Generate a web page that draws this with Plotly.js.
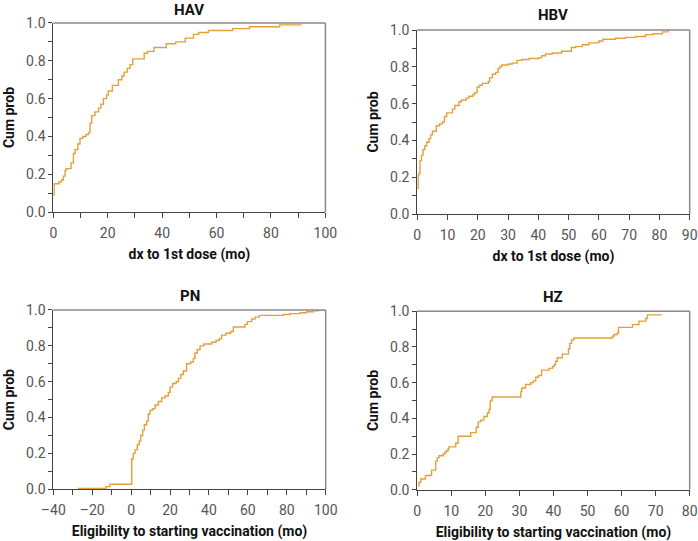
<!DOCTYPE html>
<html>
<head>
<meta charset="utf-8">
<script src="https://cdn.plot.ly/plotly-3.0.1.min.js"></script>
<style>
  html, body { margin: 0; padding: 0; background: #fff; }
  #chart { width: 698px; height: 541px; }
</style>
</head>
<body>
<div id="chart"></div>
<script>
// cumulative probability step curves
var havX = [0, 0.3, 2.1, 3, 3.7, 4.3, 4.7, 6.5, 7.4, 8, 9, 9.8, 10.8, 12, 12.9, 13.5, 14.1, 15.3, 16.6, 17.5, 18.4, 19.6, 20.2, 21.7, 23.9, 25.2, 26, 27.2, 28.2, 29.2, 33.4, 34.6, 37, 41.5, 45, 48.5, 51.5, 53.4, 57, 65.9, 72.1, 83.2, 91.2];
var havY = [0.09, 0.15, 0.16, 0.17, 0.19, 0.22, 0.23, 0.26, 0.31, 0.33, 0.36, 0.39, 0.40, 0.41, 0.42, 0.47, 0.51, 0.53, 0.55, 0.57, 0.60, 0.62, 0.64, 0.67, 0.70, 0.72, 0.74, 0.76, 0.78, 0.81, 0.84, 0.85, 0.87, 0.89, 0.90, 0.92, 0.94, 0.95, 0.96, 0.97, 0.98, 0.99, 0.99];

var hbvX = [0, 0.3, 0.5, 0.9, 1.4, 1.9, 2.5, 3.1, 3.9, 4.4, 5, 6.3, 7.4, 8.3, 9, 9.7, 11.6, 12.4, 13.8, 14.6, 16.2, 17.1, 18.4, 19, 19.8, 20.6, 21.5, 23.5, 23.9, 24.8, 25.9, 26.7, 27.2, 27.9, 30, 31.4, 33, 34.5, 36.9, 40.2, 41.1, 42.4, 44.6, 47.7, 50.9, 52.3, 54.5, 56.7, 60, 61.3, 65.5, 68.8, 72.1, 75.4, 78, 81, 82.8, 83.4];
var hbvY = [0.14, 0.21, 0.22, 0.29, 0.32, 0.35, 0.37, 0.39, 0.41, 0.43, 0.45, 0.48, 0.49, 0.50, 0.53, 0.55, 0.57, 0.59, 0.61, 0.62, 0.63, 0.64, 0.65, 0.66, 0.69, 0.70, 0.71, 0.72, 0.74, 0.76, 0.77, 0.79, 0.80, 0.81, 0.815, 0.82, 0.835, 0.84, 0.845, 0.85, 0.86, 0.87, 0.875, 0.885, 0.905, 0.91, 0.92, 0.93, 0.94, 0.95, 0.955, 0.96, 0.965, 0.975, 0.98, 0.99, 1.0, 1.0];

var pnX = [-27.5, -12.9, -10.9, 0, 0.3, 1.1, 2, 3.2, 4.2, 4.9, 5.9, 6.8, 8, 8.8, 9.7, 11, 12.3, 14, 15.7, 17.4, 19.1, 20, 21.3, 23.1, 24.3, 25.5, 26.8, 28.5, 30.6, 32, 32.8, 34, 35.4, 37.4, 41.4, 43.6, 45.3, 46.5, 48.7, 51.1, 52.5, 58.5, 59.7, 62, 63.7, 65.9, 78.2, 81.7, 86.8, 90.2, 93.7, 96.2, 100];
var pnY = [0.005, 0.015, 0.028, 0.028, 0.17, 0.20, 0.22, 0.25, 0.27, 0.30, 0.33, 0.36, 0.38, 0.42, 0.44, 0.45, 0.47, 0.49, 0.51, 0.52, 0.54, 0.57, 0.59, 0.60, 0.62, 0.64, 0.66, 0.70, 0.71, 0.73, 0.76, 0.78, 0.80, 0.81, 0.82, 0.83, 0.84, 0.86, 0.87, 0.88, 0.905, 0.92, 0.935, 0.95, 0.96, 0.97, 0.975, 0.98, 0.985, 0.99, 0.995, 1.0, 1.0];

var hzX = [0.3, 0.5, 1, 2.4, 4.2, 5.4, 5.9, 6.4, 7.6, 8.1, 8.6, 9.1, 9.3, 11.3, 12, 15.7, 17.3, 17.9, 18.6, 19.6, 20.6, 21.1, 21.4, 21.5, 22, 30.4, 30.7, 31.8, 33.3, 34.1, 34.8, 35.6, 36.5, 38.7, 39.7, 40.2, 40.6, 41.1, 42.6, 44.4, 44.8, 45.3, 46, 57.3, 57.8, 58.8, 59.1, 63.2, 65.1, 67.1, 67.6, 71.8];
var hzY = [0.02, 0.04, 0.06, 0.08, 0.11, 0.16, 0.18, 0.19, 0.20, 0.21, 0.22, 0.23, 0.24, 0.26, 0.30, 0.32, 0.35, 0.38, 0.39, 0.41, 0.43, 0.45, 0.49, 0.50, 0.52, 0.55, 0.57, 0.59, 0.60, 0.61, 0.63, 0.64, 0.67, 0.68, 0.69, 0.70, 0.72, 0.74, 0.76, 0.79, 0.82, 0.84, 0.85, 0.86, 0.87, 0.88, 0.91, 0.925, 0.945, 0.96, 0.98, 0.98];

var panelTitles = ["HAV", "HBV", "PN", "HZ"];
var xTitles = ["dx to 1st dose (mo)", "dx to 1st dose (mo)", "Eligibility to starting vaccination (mo)", "Eligibility to starting vaccination (mo)"];

var lineColor = "#E3A03C";
var series = [[havX, havY], [hbvX, hbvY], [pnX, pnY], [hzX, hzY]];
var axNames = ["", "2", "3", "4"];

var traces = series.map(function (s, i) {
    return {
        x: s[0], y: s[1],
        type: "scatter", mode: "lines",
        line: {shape: "hv", color: lineColor, width: 1.4},
        xaxis: "x" + axNames[i], yaxis: "y" + axNames[i],
        hoverinfo: "x+y"
    };
});

var tickFont = {family: "Roboto, sans-serif", size: 14, color: "#555"};
var titleFont = {family: "Roboto, sans-serif", size: 14, color: "#111", weight: "bold"};

function xax(n, domain, range, dtick, minor, title) {
    var a = {
        anchor: "y" + n,
        domain: domain, range: range, dtick: dtick, tick0: 0,
        showgrid: false, zeroline: false,
        showline: true, linecolor: "#444", linewidth: 1,
        ticks: "outside", ticklen: 5, tickcolor: "#444",
        ticklabelstandoff: 3,
        tickfont: tickFont,
        title: {text: title, font: titleFont, standoff: 9}
    };
    if (minor) a.minor = {dtick: minor, ticks: "outside", ticklen: 5, tickcolor: "#444", showgrid: false};
    return a;
}
function yax(n, domain) {
    return {
        anchor: "x" + n,
        domain: domain, range: [0, 1], dtick: 0.2, tickformat: ".1f",
        showgrid: false, zeroline: false,
        showline: true, linecolor: "#444", linewidth: 1,
        ticks: "outside", ticklen: 4, tickcolor: "#444",
        minor: {dtick: 0.1, ticks: "outside", ticklen: 4, tickcolor: "#444", showgrid: false},
        tickfont: tickFont,
        title: {text: "Cum prob", font: titleFont, standoff: 8}
    };
}

var layout = {
    width: 698, height: 541,
    margin: {l: 0, r: 0, t: 0, b: 0},
    paper_bgcolor: "#fff", plot_bgcolor: "#fff",
    showlegend: false,
    xaxis:  xax("",  [0.0764, 0.4662], [0, 100], 20, 10, xTitles[0]),
    yaxis:  yax("",  [0.608, 0.9575]),
    xaxis2: xax("2", [0.5978, 0.9881], [0, 90], 10, null, xTitles[1]),
    yaxis2: yax("2", [0.6044, 0.9445]),
    xaxis3: xax("3", [0.0764, 0.4666], [-40, 100], 20, 10, xTitles[2]),
    yaxis3: yax("3", [0.0956, 0.427]),
    xaxis4: xax("4", [0.5978, 0.9881], [0, 80], 10, null, xTitles[3]),
    yaxis4: yax("4", [0.0948, 0.4246]),
    annotations: [],
    shapes: []
};
layout.xaxis3.tickvals = [-40, -20, 0, 20, 40, 60, 80, 100];
layout.xaxis3.ticktext = ["\u201340", "\u201320", "0", "20", "40", "60", "80", "100"];

var titleY = [0.9815, 0.9723, 0.4529, 0.451];
for (var i = 0; i < 4; i++) {
    var xr = "x" + axNames[i] + " domain", yr = "y" + axNames[i] + " domain";
    layout.annotations.push({
        text: panelTitles[i], xref: xr, x: 0.5, yref: "paper", y: titleY[i],
        showarrow: false, xanchor: "center", yanchor: "middle",
        font: {family: "Roboto, sans-serif", size: 15, color: "#111", weight: "bold"}
    });
    // grey frame on top and right
    layout.shapes.push({type: "line", xref: xr, yref: yr, x0: 0, x1: 1, y0: 1, y1: 1, line: {color: "#888", width: 1.5}});
    layout.shapes.push({type: "line", xref: xr, yref: yr, x0: 1, x1: 1, y0: 0, y1: 1, line: {color: "#888", width: 1.5}});
}

Plotly.newPlot("chart", traces, layout, {displayModeBar: false, staticPlot: true});
</script>
</body>
</html>
